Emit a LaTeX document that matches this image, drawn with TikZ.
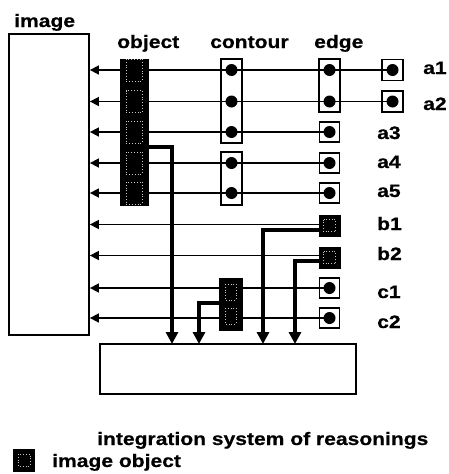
\documentclass[tikz,border=0pt]{standalone}
\usepackage{fontspec}
\setmainfont{Liberation Sans}[FakeStretch=1.17,FakeBold=0.6]
\usetikzlibrary{arrows.meta}
\begin{document}
\begin{tikzpicture}[x=1pt,y=-1pt,
  lbl/.style={font=\bfseries\fontsize{18}{18}\selectfont, anchor=base west, inner sep=0pt},
  dotn/.style={circle, fill=black, inner sep=0pt, minimum size=12pt},
  thinarrow/.style={line width=1.6pt, -{Triangle[length=9pt,width=9pt]}},
  thickarrow/.style={line width=3.2pt, -{Triangle[length=12pt,width=12pt]}},
  framebox/.style={draw, line width=1.8pt, inner sep=0pt},
  darkbox/.style={fill=black, draw=black, line width=1pt, inner sep=0pt},
  texture/.style={draw=gray!45, line width=0.8pt, dotted},
]
\useasboundingbox (0,0) rectangle (449,474);

% main boxes
\node[framebox, minimum width=80pt, minimum height=301pt] (img) at (49,184.5) {};
\node[framebox, minimum width=256pt, minimum height=50pt] (integ) at (228,369) {};

% column boxes
\node[framebox, minimum width=21pt, minimum height=84pt] (con1) at (231.5,101) {};
\node[framebox, minimum width=21pt, minimum height=53pt] (con2) at (231.5,178.5) {};
\node[framebox, minimum width=21pt, minimum height=53pt] (edg1) at (329.5,85.5) {};
\node[framebox, minimum size=20pt] (ea3) at (329.5,132) {};
\node[framebox, minimum size=20pt] (ea4) at (329.5,163) {};
\node[framebox, minimum size=20pt] (ea5) at (329.5,193) {};
\node[framebox, minimum size=20pt] (ec1) at (329.5,288) {};
\node[framebox, minimum size=20pt] (ec2) at (329.5,318) {};
\node[framebox, minimum size=21pt] (ra1) at (392.5,70) {};
\node[framebox, minimum size=21pt] (ra2) at (392.5,101.5) {};

% thin connectors
\foreach \src in {ra1, ra2, ea3, ea4, ea5, ec1, ec2}{
  \draw[thinarrow] (\src.center) -- (img.east |- \src.center);
}

% dark boxes
\node[darkbox, minimum width=28pt, minimum height=146pt] (obj) at (134,132) {};
\node[darkbox, minimum width=23pt, minimum height=52pt] (conc) at (230.5,304) {};
\node[darkbox, minimum size=21pt] (eb1) at (329.5,225.5) {};
\node[darkbox, minimum size=21pt] (eb2) at (329.5,257.5) {};
\node[darkbox, minimum width=21pt, minimum height=22pt] (leg) at (24,460) {};

% textures of dark boxes
\foreach \y in {70,101.5,132,163,193}{
  \draw[texture] (126,\y-11) rectangle (142,\y+11);
}
\draw[texture] (225,284) rectangle (236,300);
\draw[texture] (225,308) rectangle (236,324);
\draw[texture] (eb1.center) ++(-6,-6) rectangle ++(12,12);
\draw[texture] (eb2.center) ++(-6,-6) rectangle ++(12,12);
\draw[texture] (leg.center) ++(-6,-6) rectangle ++(12,12);

% thin connectors from b boxes
\draw[thinarrow] (eb1.west |- 0,224.5) -- (img.east |- 0,224.5);
\draw[thinarrow] (eb2.west |- 0,255.5) -- (img.east |- 0,255.5);

% dots
\foreach \y [count=\i] in {70,101.5,132,163,193}{
  \node[dotn] (od\i) at (134,\y) {};
}
\foreach \y [count=\i] in {70,101.5,132,163,193}{
  \node[dotn] (cd\i) at (231.5,\y) {};
}
\foreach \y [count=\i] in {70,101.5,132,163,193,288,318}{
  \node[dotn] (ed\i) at (329.5,\y) {};
}
\node[dotn] (rd1) at (ra1.center) {};
\node[dotn] (rd2) at (ra2.center) {};

% thick connectors to integration system
\coordinate (t1) at (172,344);
\coordinate (t2) at (199,344);
\coordinate (t3) at (263,344);
\coordinate (t4) at (295,344);
\draw[thickarrow] (obj.east |- 0,147) -| (t1);
\draw[thickarrow] (conc.west |- 0,303) -| (t2);
\draw[thickarrow] (eb1.west |- 0,230) -| (t3);
\draw[thickarrow] (eb2.west |- 0,261) -| (t4);

% labels
\node[lbl] (limg) at (14,27) {image};
\node[lbl] (lobj) at (117,48) {object};
\node[lbl] (lcon) at (210,48) {contour};
\node[lbl] (ledg) at (314,48) {edge};
\node[lbl] (la1) at (423,74) {a1};
\node[lbl] (la2) at (423,110) {a2};
\node[lbl] (la3) at (377,139) {a3};
\node[lbl] (la4) at (377,168) {a4};
\node[lbl] (la5) at (377,197) {a5};
\node[lbl] (lb1) at (377,230) {b1};
\node[lbl] (lb2) at (377,260) {b2};
\node[lbl] (lc1) at (377,298) {c1};
\node[lbl] (lc2) at (377,328) {c2};
\node[lbl] (lint) at (97,445) {integration system of reasonings};
\node[lbl] (lleg) at (52,467) {image object};
\end{tikzpicture}
\end{document}
